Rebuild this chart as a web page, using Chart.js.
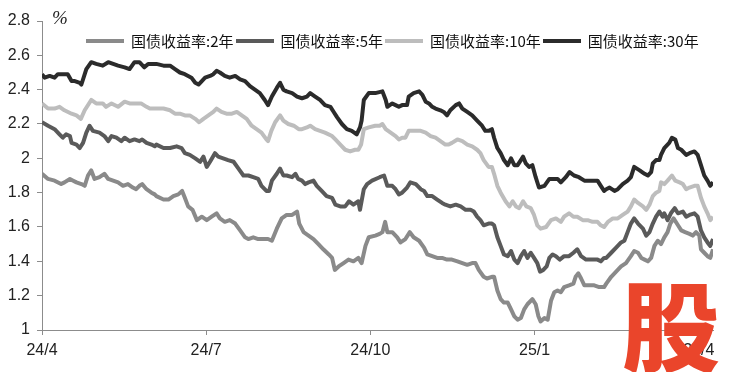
<!DOCTYPE html>
<html>
<head>
<meta charset="utf-8">
<script src="https://cdn.jsdelivr.net/npm/chart.js@4"></script>
<style>
  body { margin: 0; background: #fff; }
  #wrap { position: relative; width: 731px; height: 372px; overflow: hidden; }
  #unit { position: absolute; left: 52px; top: 7px; font: italic 19px 'Liberation Serif', serif; color: #222; }
  #legend { position: absolute; left: 86px; top: 30px; display: flex; align-items: center;
            font: 15px 'Noto Sans CJK SC', sans-serif; color: #111; white-space: nowrap; }
  #legend .item { display: flex; align-items: center; margin-right: 2px; }
  #legend .swatch { width: 38px; height: 4px; margin-right: 7px; }
  #mark { position: absolute; left: 622px; top: 272px; font: 900 98px 'Noto Sans CJK SC', sans-serif;
          color: #ea452b; line-height: 1; pointer-events: none; }
</style>
</head>
<body>
<div id="wrap">
  <canvas id="chart" width="731" height="372"></canvas>
  <div id="unit">%</div>
  <div id="legend"></div>
  <div id="mark">股</div>
</div>
<script>
(()=>{
// x = months since 2024/4
const tickPos = [0, 3, 6, 9, 12];
const tickLabels = ['24/4', '24/7', '24/10', '25/1', '25/4'];
const names = ['国债收益率:2年', '国债收益率:5年', '国债收益率:10年', '国债收益率:30年'];
const colores = ['#8a8a8a', '#5a5a5a', '#bdbdbd', '#2b2b2b'];

const cgb2 = [[0,1.91],[0.11,1.88],[0.23,1.87],[0.35,1.85],[0.41,1.86],[0.51,1.88],[0.57,1.87],[0.63,1.86],[0.72,1.85],[0.78,1.84],[0.84,1.90],[0.9,1.93],[0.96,1.88],[1.05,1.89],[1.14,1.91],[1.21,1.88],[1.3,1.87],[1.39,1.86],[1.48,1.84],[1.57,1.85],[1.66,1.83],[1.72,1.82],[1.78,1.84],[1.83,1.85],[1.91,1.82],[2.0,1.80],[2.06,1.79],[2.09,1.78],[2.22,1.76],[2.31,1.76],[2.4,1.78],[2.49,1.79],[2.56,1.81],[2.61,1.77],[2.67,1.72],[2.75,1.70],[2.83,1.64],[2.92,1.66],[3.01,1.64],[3.1,1.66],[3.19,1.68],[3.25,1.65],[3.34,1.63],[3.43,1.64],[3.53,1.62],[3.62,1.58],[3.71,1.54],[3.77,1.53],[3.86,1.54],[3.95,1.53],[4.13,1.53],[4.2,1.52],[4.29,1.59],[4.38,1.65],[4.47,1.67],[4.57,1.67],[4.66,1.69],[4.7,1.62],[4.78,1.57],[4.87,1.55],[4.96,1.53],[5.05,1.50],[5.14,1.47],[5.24,1.44],[5.3,1.42],[5.35,1.35],[5.42,1.37],[5.51,1.39],[5.6,1.41],[5.69,1.40],[5.78,1.42],[5.84,1.39],[5.91,1.49],[5.97,1.54],[6.09,1.55],[6.17,1.56],[6.22,1.57],[6.27,1.63],[6.31,1.57],[6.4,1.57],[6.49,1.54],[6.55,1.51],[6.64,1.53],[6.72,1.57],[6.79,1.54],[6.89,1.52],[6.98,1.48],[7.04,1.44],[7.13,1.43],[7.22,1.42],[7.31,1.42],[7.4,1.41],[7.49,1.41],[7.59,1.40],[7.68,1.39],[7.77,1.38],[7.86,1.39],[7.92,1.39],[7.98,1.35],[8.07,1.31],[8.13,1.30],[8.22,1.31],[8.26,1.31],[8.32,1.23],[8.38,1.18],[8.44,1.16],[8.51,1.16],[8.57,1.12],[8.63,1.08],[8.69,1.06],[8.75,1.07],[8.81,1.12],[8.87,1.15],[8.96,1.18],[9.02,1.15],[9.07,1.08],[9.11,1.05],[9.18,1.07],[9.24,1.06],[9.3,1.17],[9.36,1.22],[9.42,1.23],[9.48,1.22],[9.54,1.25],[9.63,1.26],[9.71,1.27],[9.75,1.31],[9.8,1.33],[9.85,1.30],[9.91,1.26],[10.0,1.26],[10.09,1.26],[10.18,1.25],[10.27,1.25],[10.31,1.27],[10.4,1.31],[10.49,1.34],[10.58,1.37],[10.67,1.39],[10.76,1.43],[10.82,1.46],[10.89,1.45],[10.95,1.42],[11.01,1.41],[11.07,1.40],[11.13,1.42],[11.19,1.49],[11.25,1.52],[11.31,1.50],[11.37,1.54],[11.43,1.57],[11.48,1.62],[11.54,1.65],[11.62,1.61],[11.68,1.58],[11.75,1.57],[11.83,1.56],[11.89,1.55],[11.95,1.57],[12.01,1.55],[12.04,1.47],[12.1,1.45],[12.16,1.43],[12.21,1.42],[12.26,1.47]];

const cgb5 = [[0,2.21],[0.11,2.19],[0.23,2.17],[0.32,2.14],[0.38,2.12],[0.44,2.14],[0.51,2.13],[0.54,2.09],[0.63,2.08],[0.69,2.06],[0.75,2.09],[0.81,2.15],[0.87,2.19],[0.93,2.16],[1.05,2.15],[1.14,2.13],[1.21,2.10],[1.27,2.13],[1.36,2.12],[1.45,2.10],[1.51,2.12],[1.6,2.10],[1.69,2.11],[1.78,2.10],[1.83,2.11],[1.91,2.09],[2.0,2.08],[2.06,2.07],[2.09,2.08],[2.22,2.06],[2.34,2.06],[2.46,2.07],[2.55,2.06],[2.61,2.03],[2.7,2.02],[2.8,2.00],[2.89,1.98],[2.95,2.01],[3.01,1.95],[3.07,1.98],[3.16,2.03],[3.22,2.01],[3.31,2.00],[3.4,1.99],[3.5,1.98],[3.59,1.94],[3.68,1.90],[3.77,1.90],[3.86,1.89],[3.95,1.88],[4.01,1.84],[4.1,1.81],[4.15,1.81],[4.2,1.87],[4.29,1.91],[4.35,1.94],[4.41,1.90],[4.47,1.90],[4.57,1.89],[4.63,1.91],[4.68,1.88],[4.75,1.87],[4.81,1.85],[4.87,1.86],[4.96,1.87],[5.02,1.84],[5.11,1.81],[5.2,1.78],[5.3,1.77],[5.36,1.73],[5.45,1.72],[5.54,1.72],[5.61,1.75],[5.69,1.73],[5.78,1.75],[5.81,1.70],[5.88,1.82],[5.94,1.85],[6.03,1.87],[6.17,1.89],[6.25,1.90],[6.31,1.84],[6.4,1.84],[6.46,1.82],[6.52,1.79],[6.58,1.80],[6.67,1.83],[6.73,1.86],[6.83,1.85],[6.92,1.82],[6.98,1.81],[7.04,1.78],[7.13,1.78],[7.22,1.76],[7.31,1.74],[7.37,1.73],[7.46,1.72],[7.56,1.73],[7.65,1.72],[7.74,1.70],[7.83,1.70],[7.89,1.69],[7.95,1.66],[8.01,1.64],[8.07,1.61],[8.16,1.62],[8.22,1.62],[8.26,1.61],[8.32,1.54],[8.38,1.49],[8.44,1.44],[8.51,1.43],[8.57,1.46],[8.63,1.41],[8.69,1.39],[8.75,1.43],[8.81,1.46],[8.87,1.42],[8.93,1.45],[8.99,1.42],[9.05,1.39],[9.1,1.34],[9.16,1.35],[9.22,1.37],[9.27,1.42],[9.33,1.44],[9.39,1.43],[9.46,1.41],[9.54,1.43],[9.63,1.43],[9.71,1.45],[9.78,1.47],[9.85,1.43],[9.94,1.41],[10.06,1.41],[10.15,1.41],[10.21,1.40],[10.27,1.42],[10.31,1.42],[10.4,1.45],[10.49,1.48],[10.58,1.51],[10.64,1.52],[10.7,1.57],[10.76,1.62],[10.82,1.65],[10.89,1.62],[10.98,1.59],[11.04,1.55],[11.1,1.57],[11.16,1.62],[11.22,1.66],[11.28,1.69],[11.34,1.66],[11.37,1.68],[11.43,1.64],[11.49,1.68],[11.56,1.71],[11.62,1.68],[11.71,1.69],[11.77,1.66],[11.83,1.67],[11.92,1.68],[11.98,1.66],[12.04,1.58],[12.1,1.54],[12.16,1.51],[12.21,1.49],[12.26,1.53]];

const cgb10 = [[0,2.32],[0.11,2.29],[0.23,2.29],[0.32,2.30],[0.41,2.28],[0.54,2.26],[0.63,2.25],[0.71,2.23],[0.78,2.28],[0.9,2.34],[0.99,2.32],[1.11,2.32],[1.17,2.30],[1.27,2.32],[1.39,2.30],[1.51,2.33],[1.6,2.32],[1.72,2.32],[1.81,2.32],[1.91,2.30],[1.97,2.29],[2.09,2.29],[2.22,2.29],[2.34,2.28],[2.43,2.26],[2.52,2.26],[2.61,2.25],[2.7,2.25],[2.8,2.23],[2.87,2.21],[2.95,2.23],[3.04,2.25],[3.13,2.27],[3.19,2.29],[3.28,2.27],[3.37,2.26],[3.47,2.26],[3.56,2.27],[3.65,2.25],[3.74,2.23],[3.83,2.19],[3.92,2.17],[4.01,2.15],[4.1,2.11],[4.13,2.10],[4.19,2.16],[4.26,2.21],[4.35,2.25],[4.41,2.22],[4.5,2.20],[4.6,2.19],[4.69,2.17],[4.75,2.17],[4.84,2.18],[4.9,2.19],[4.99,2.17],[5.08,2.16],[5.17,2.15],[5.3,2.13],[5.36,2.11],[5.45,2.08],[5.54,2.05],[5.63,2.04],[5.72,2.05],[5.78,2.05],[5.83,2.08],[5.88,2.17],[5.97,2.18],[6.09,2.19],[6.17,2.19],[6.22,2.20],[6.28,2.17],[6.37,2.15],[6.46,2.13],[6.52,2.11],[6.58,2.12],[6.64,2.12],[6.7,2.16],[6.79,2.16],[6.92,2.16],[7.01,2.15],[7.1,2.13],[7.19,2.12],[7.28,2.10],[7.37,2.08],[7.43,2.08],[7.49,2.09],[7.59,2.11],[7.68,2.10],[7.77,2.08],[7.86,2.07],[7.95,2.05],[8.01,2.03],[8.07,1.99],[8.16,1.95],[8.22,1.95],[8.26,1.91],[8.32,1.84],[8.38,1.80],[8.47,1.75],[8.54,1.72],[8.6,1.75],[8.66,1.72],[8.72,1.71],[8.79,1.75],[8.85,1.72],[8.93,1.71],[8.99,1.67],[9.05,1.61],[9.11,1.59],[9.21,1.60],[9.3,1.64],[9.39,1.65],[9.48,1.63],[9.54,1.66],[9.63,1.68],[9.71,1.66],[9.78,1.66],[9.88,1.64],[9.97,1.64],[10.06,1.63],[10.15,1.63],[10.21,1.61],[10.27,1.60],[10.34,1.63],[10.43,1.65],[10.52,1.65],[10.61,1.67],[10.7,1.69],[10.76,1.72],[10.82,1.76],[10.89,1.74],[10.98,1.72],[11.04,1.70],[11.1,1.73],[11.16,1.78],[11.22,1.80],[11.28,1.81],[11.31,1.86],[11.37,1.85],[11.43,1.87],[11.51,1.90],[11.57,1.87],[11.65,1.86],[11.71,1.85],[11.77,1.82],[11.83,1.83],[11.92,1.84],[11.98,1.84],[12.04,1.77],[12.1,1.72],[12.16,1.68],[12.21,1.64],[12.26,1.66]];

const cgb30 = [[0,2.49],[0.05,2.47],[0.14,2.48],[0.23,2.47],[0.29,2.49],[0.35,2.49],[0.47,2.49],[0.54,2.45],[0.6,2.45],[0.69,2.44],[0.72,2.43],[0.81,2.52],[0.9,2.56],[0.99,2.55],[1.11,2.54],[1.21,2.56],[1.3,2.55],[1.39,2.54],[1.51,2.53],[1.6,2.52],[1.69,2.56],[1.78,2.56],[1.87,2.53],[1.94,2.55],[2.03,2.55],[2.09,2.55],[2.22,2.54],[2.34,2.54],[2.43,2.52],[2.52,2.50],[2.61,2.49],[2.67,2.48],[2.73,2.47],[2.8,2.44],[2.86,2.43],[2.92,2.45],[2.98,2.47],[3.07,2.48],[3.13,2.49],[3.19,2.51],[3.25,2.50],[3.34,2.48],[3.43,2.47],[3.53,2.48],[3.62,2.46],[3.71,2.45],[3.8,2.42],[3.89,2.40],[3.98,2.38],[4.07,2.34],[4.13,2.31],[4.2,2.36],[4.29,2.41],[4.35,2.44],[4.41,2.40],[4.47,2.39],[4.57,2.38],[4.66,2.36],[4.75,2.35],[4.84,2.36],[4.9,2.38],[4.99,2.36],[5.08,2.34],[5.17,2.31],[5.27,2.30],[5.33,2.27],[5.39,2.24],[5.48,2.20],[5.57,2.17],[5.66,2.16],[5.75,2.14],[5.81,2.18],[5.84,2.22],[5.88,2.34],[5.97,2.38],[6.09,2.38],[6.22,2.39],[6.28,2.34],[6.31,2.30],[6.4,2.32],[6.46,2.31],[6.52,2.30],[6.58,2.31],[6.67,2.31],[6.7,2.36],[6.79,2.38],[6.89,2.39],[6.95,2.37],[7.01,2.33],[7.07,2.32],[7.13,2.30],[7.19,2.29],[7.28,2.28],[7.34,2.27],[7.4,2.25],[7.46,2.28],[7.56,2.31],[7.62,2.32],[7.68,2.29],[7.77,2.27],[7.86,2.25],[7.95,2.22],[8.04,2.19],[8.1,2.16],[8.16,2.16],[8.22,2.17],[8.26,2.12],[8.32,2.06],[8.38,2.03],[8.44,1.99],[8.51,1.96],[8.57,2.00],[8.63,1.96],[8.69,1.96],[8.75,1.99],[8.79,2.01],[8.84,1.97],[8.9,1.95],[8.96,1.96],[9.02,1.89],[9.08,1.83],[9.18,1.84],[9.27,1.88],[9.36,1.88],[9.42,1.88],[9.48,1.86],[9.57,1.89],[9.64,1.92],[9.72,1.90],[9.81,1.89],[9.91,1.87],[10.03,1.87],[10.15,1.87],[10.21,1.84],[10.27,1.81],[10.31,1.82],[10.37,1.83],[10.46,1.81],[10.52,1.82],[10.61,1.85],[10.7,1.87],[10.76,1.89],[10.82,1.95],[10.92,1.93],[11.01,1.91],[11.07,1.90],[11.13,1.92],[11.16,1.97],[11.22,1.99],[11.28,1.99],[11.31,2.02],[11.37,2.06],[11.46,2.09],[11.51,2.12],[11.57,2.11],[11.62,2.06],[11.68,2.05],[11.77,2.02],[11.83,2.03],[11.92,2.04],[11.98,2.02],[12.04,1.96],[12.1,1.90],[12.16,1.87],[12.21,1.84],[12.26,1.86]];

const series = [cgb2, cgb5, cgb10, cgb30];
const tickFont = { family: "'Liberation Sans Narrow', 'Liberation Sans', sans-serif", size: 16 };
const axisColor = '#8c8c8c';

// legend (html)
const legend = document.getElementById('legend');
names.forEach((n, i) => {
    const it = document.createElement('div');
    it.className = 'item';
    it.innerHTML = '<span class="swatch" style="background:' + colores[i] + '"></span><span>' + n + '</span>';
    legend.appendChild(it);
});

new Chart(document.getElementById('chart'), {
    type: 'line',
    data: {
        datasets: series.map((s, i) => ({
            label: names[i],
            data: s.map(p => ({ x: p[0], y: p[1] })),
            borderColor: colores[i],
            backgroundColor: colores[i],
            borderWidth: 4,
            pointRadius: 0,
            tension: 0,
            borderJoinStyle: 'round'
        }))
    },
    options: {
        responsive: false,
        animation: false,
        devicePixelRatio: 1,
        layout: { padding: { top: 21, right: 18, bottom: 0, left: 0 } },
        plugins: { legend: { display: false }, tooltip: { enabled: false } },
        scales: {
            x: {
                type: 'linear', min: 0, max: 12.26,
                afterBuildTicks: s => { s.ticks = tickPos.map(v => ({ value: v })); },
                afterFit: s => { s.height = 42; },
                ticks: { autoSkip: false, maxRotation: 0, padding: 6, color: '#222', font: tickFont,
                         callback: v => tickLabels[tickPos.indexOf(v)] },
                grid: { drawOnChartArea: false, drawTicks: true, tickLength: 5, color: axisColor },
                border: { display: true, color: axisColor, width: 1 }
            },
            y: {
                min: 1, max: 2.8,
                afterFit: s => { s.width = 42; },
                ticks: { stepSize: 0.2, padding: 7, color: '#222', font: tickFont,
                         callback: v => String(+v.toFixed(1)) },
                grid: { drawOnChartArea: false, drawTicks: true, tickLength: 5, color: axisColor },
                border: { display: true, color: axisColor, width: 1 }
            }
        }
    }
});
})();
</script>
</body>
</html>
